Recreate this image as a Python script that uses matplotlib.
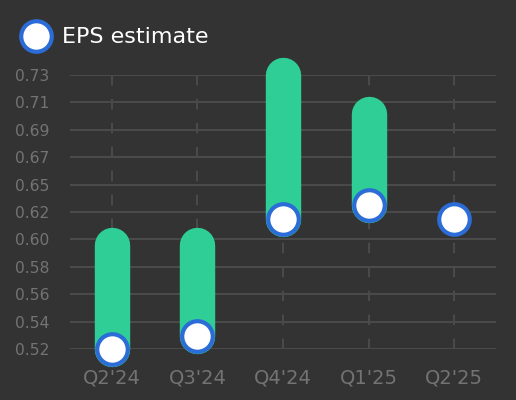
"""EPS estimate vs actual range chart."""

import matplotlib
matplotlib.use("Agg")
import matplotlib.pyplot as plt
from matplotlib.lines import Line2D

# Data
quarters = ["Q2'24", "Q3'24", "Q4'24", "Q1'25", "Q2'25"]
eps_estimate = [0.52, 0.53, 0.62, 0.63, 0.62]
eps_actual = [0.60, 0.60, 0.73, 0.70, None]
y_ticks = [0.52, 0.541, 0.562, 0.583, 0.604, 0.625, 0.646, 0.667, 0.688, 0.709, 0.73]
y_labels = ["0.52", "0.54", "0.56", "0.58", "0.60", "0.62", "0.65", "0.67", "0.69", "0.71", "0.73"]

# Style
BG = "#333333"
GRID = "#4a4a4a"
GREEN = "#2ece96"
BLUE = "#2b6cd6"
LABEL = "#737373"

plt.rcParams.update({"font.family": "DejaVu Sans"})

fig = plt.figure(figsize=(5.16, 4.0), dpi=100, facecolor=BG)
ax = fig.add_axes([70 / 516, 1 - 349 / 400, 426 / 516, 274 / 400])
ax.set_facecolor(BG)

x = list(range(len(quarters)))

# grid
for yt in y_ticks:
    ax.axhline(yt, color=GRID, lw=1.5, zorder=0)
for xi in x:
    ax.axvline(xi, color=GRID, lw=1.5, linestyle=(0, (5, 6.5)), zorder=0)

# range bars
for xi, lo, hi in zip(x, eps_estimate, eps_actual):
    if hi is None:
        continue
    ax.plot([xi, xi], [lo, hi], color=GREEN, lw=25.5, solid_capstyle="round",
            zorder=2, clip_on=False)

# estimate markers
ax.plot(x, eps_estimate, linestyle="none", marker="o", ms=22, mfc="white",
        mec=BLUE, mew=3, zorder=3, clip_on=False)

ax.set_xlim(-0.49, 4.49)
ax.set_ylim(0.52, 0.73)
ax.set_xticks(x)
ax.set_xticklabels(quarters)
ax.set_yticks(y_ticks)
ax.set_yticklabels(y_labels)
ax.tick_params(axis="x", length=0, pad=14, labelsize=14, labelcolor=LABEL)
ax.tick_params(axis="y", length=0, pad=15, labelsize=11.2, labelcolor=LABEL)
for s in ax.spines.values():
    s.set_visible(False)

# legend
fig.add_artist(Line2D([36 / 516], [1 - 36 / 400], transform=fig.transFigure,
                      marker="o", ms=22, mfc="white", mec=BLUE, mew=3,
                      linestyle="none"))
fig.text(62 / 516, 1 - 37 / 400, "EPS estimate", color="white", fontsize=16,
         va="center", ha="left")

fig.savefig("out.png", dpi=100, facecolor=BG)
